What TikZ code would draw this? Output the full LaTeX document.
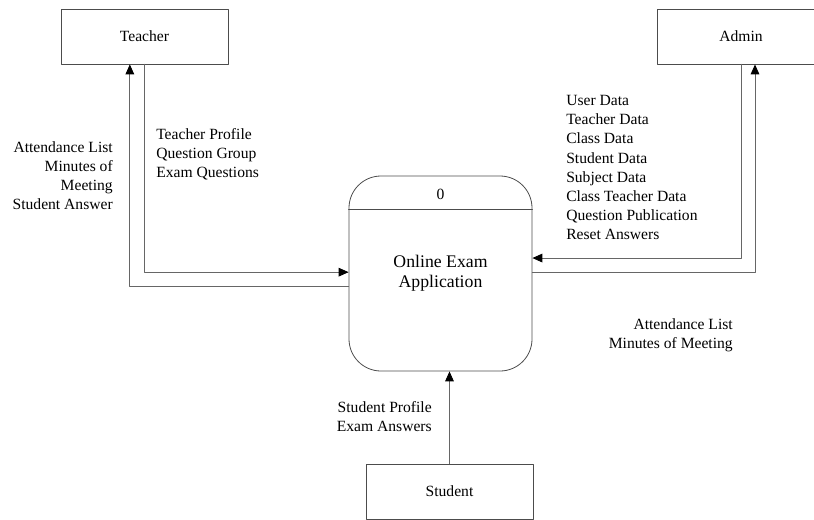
\documentclass[tikz,border=0pt]{standalone}
\usepackage{fontspec}
\setmainfont{Liberation Serif}
\usepackage{tikz}
\usetikzlibrary{arrows,arrows.meta}

\begin{document}
\begin{tikzpicture}[line cap=round,line join=round,>={Triangle[length=7.5pt,width=6.5pt,color=black]},x=0.75pt,y=-0.75pt,
  extbox/.style={draw=black!70,line width=0.6pt,minimum width=125.25pt,minimum height=41.25pt,inner sep=0pt},
  procbox/.style={draw=black!70,line width=0.6pt,rounded corners=24pt,minimum width=137.25pt,minimum height=146.25pt,inner sep=0pt},
  flowline/.style={->,draw=black!60,line width=0.7pt},
  flowtext/.style={inner sep=0pt,font=\rmfamily\fontsize{11.7}{14.3}\selectfont}]
\useasboundingbox (0,0) rectangle (814,519);
\clip (0,0) rectangle (814,519);
\tikzset{every node/.append style={font=\rmfamily\fontsize{11.7}{14.3}\selectfont}}
% external entities
\node[extbox] (teacher) at (144.5,36.5) {Teacher};
\node[extbox] (admin) at (741,36.5) {Admin};
\node[extbox] (student) at (449.5,491.5) {Student};
% process
\node[procbox] (proc) at (440.5,273.5) {};
\draw[draw=black!70,line width=0.6pt] (proc.west |- 0,209) -- (proc.east |- 0,209);
\node (num) at (440.5,194) {0};
\node[align=center,font=\rmfamily\fontsize{13.3}{15}\selectfont] (procname) at (440.5,273) {Online Exam\\Application};
% flows with teacher
\draw[flowline] (teacher.south) |- ([yshift=1pt]proc.west);
\draw[flowline] ([yshift=-10pt]proc.west) -| ([xshift=-11pt]teacher.south);
% flows with admin
\draw[flowline] (admin.south) |- ([yshift=11.6pt]proc.east);
\draw[flowline] ([yshift=0.5pt]proc.east) -| ([xshift=10.5pt]admin.south);
% flow from student
\draw[flowline] (student.north) -- (student.north |- proc.south);
% labels
\node[flowtext,align=right,anchor=east] (lbla) at (113,176) {Attendance List\\Minutes of\\Meeting\\Student Answer};
\node[flowtext,align=left,anchor=west] (lblb) at (156,154) {Teacher Profile\\Question Group\\Exam Questions};
\node[flowtext,align=left,anchor=west] (lblc) at (566,167.5) {User Data\\Teacher Data\\Class Data\\Student Data\\Subject Data\\Class Teacher Data\\Question Publication\\Reset Answers};
\node[flowtext,align=right,anchor=east] (lbld) at (733,335.5) {Attendance List\\Minutes of Meeting};
\node[flowtext,align=right,anchor=east] (lble) at (432,417) {Student Profile\\Exam Answers};
\end{tikzpicture}
\end{document}
